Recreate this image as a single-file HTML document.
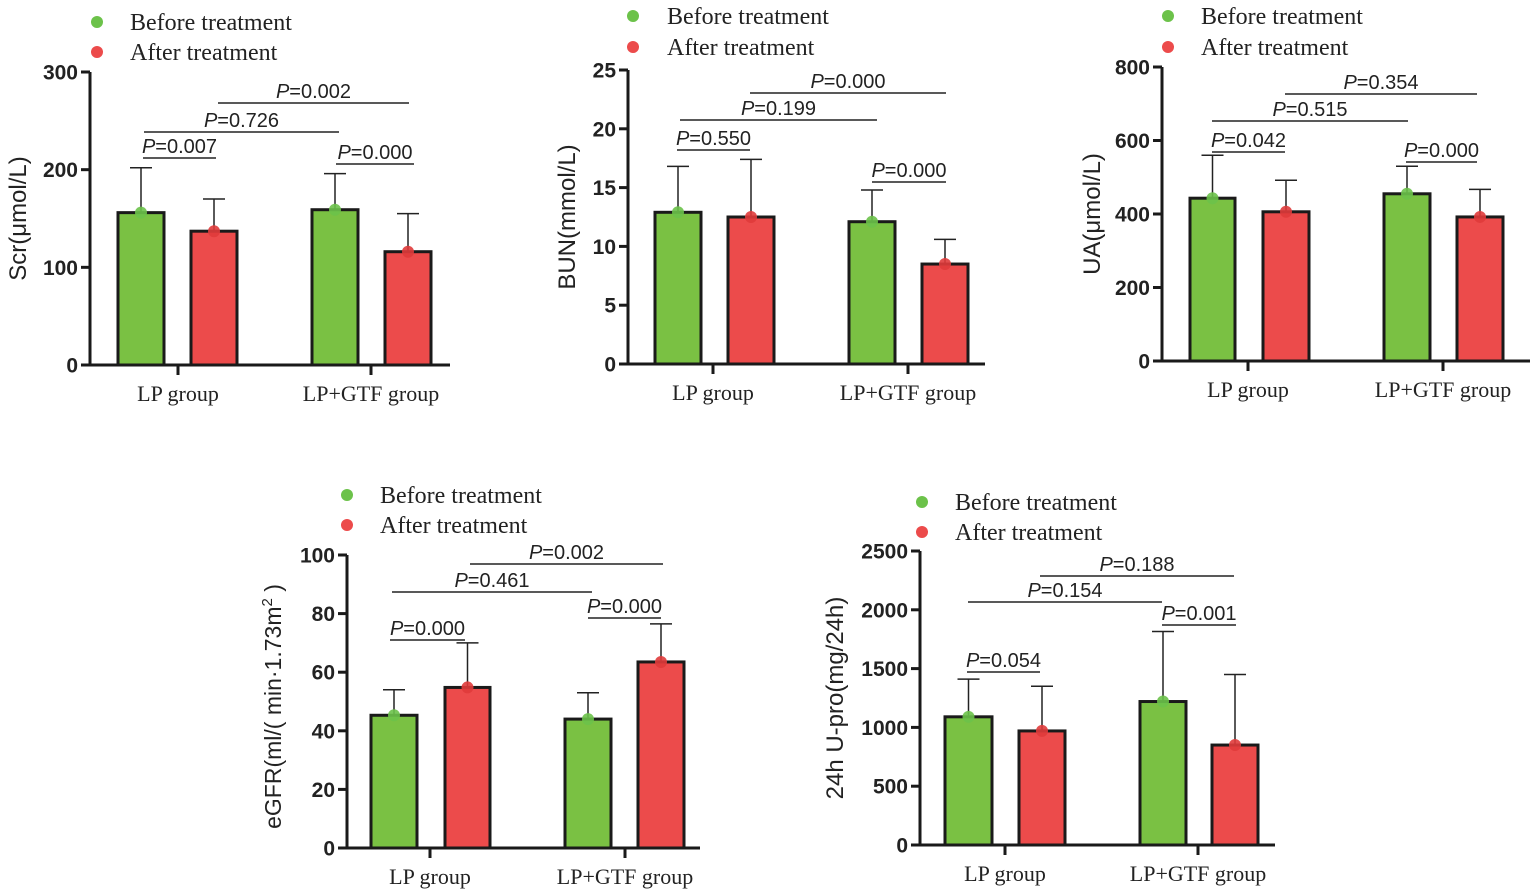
<!DOCTYPE html>
<html><head><meta charset="utf-8"><style>
html,body{margin:0;padding:0;background:#fff;}
svg{display:block}
.ser{font-family:"Liberation Serif",serif;fill:#222}
.san{font-family:"Liberation Sans",sans-serif;fill:#222}
</style></head><body>
<svg id="s" width="1535" height="895" xmlns="http://www.w3.org/2000/svg"></svg>
<script>
const P=[
{ax:90,top:72,y0:365,max:300,step:100,xe:450,bars:[[118,164,156,202,0],[191,237,137,170,1],[312,358,159,196,0],[385,431,116,155,1]],
 br:[["0.007",158,143,216],["0.726",132,144,339],["0.002",103,218,409],["0.000",164,336,414]],ticks:[178,371],leg:[97,130,22,52],yl:"Scr(μmol/L)",ylx:18},
{ax:628,top:70,y0:364,max:25,step:5,xe:985,bars:[[655,701,12.9,16.8,0],[728,774,12.5,17.4,1],[849,895,12.1,14.8,0],[922,968,8.5,10.6,1]],
 br:[["0.550",150,677,750],["0.199",120,680,877],["0.000",93,750,946],["0.000",182,872,946]],ticks:[713,908],leg:[633,667,16,47],yl:"BUN(mmol/L)",ylx:567},
{ax:1162,top:67,y0:361,max:800,step:200,xe:1530,bars:[[1190,1235,443,560,0],[1263,1309,406,492,1],[1384,1430,455,530,0],[1457,1503,392,467,1]],
 br:[["0.042",152,1212,1285],["0.515",121,1212,1408],["0.354",94,1285,1477],["0.000",162,1406,1477]],ticks:[1248,1443],leg:[1168,1201,16,47],yl:"UA(μmol/L)",ylx:1092},
{ax:347,top:555,y0:848,max:100,step:20,xe:700,bars:[[371,417,45.3,54,0],[445,490,54.8,70,1],[565,611,44,53,0],[638,684,63.5,76.5,1]],
 br:[["0.000",640,390,465],["0.461",592,392,592],["0.002",564,470,663],["0.000",618,588,661]],ticks:[430,625],leg:[347,380,495,525],yl:"eGFR",ylx:273},
{ax:920,top:551,y0:845,max:2500,step:500,xe:1275,bars:[[945,992,1090,1410,0],[1019,1065,970,1350,1],[1140,1186,1220,1815,0],[1212,1258,850,1450,1]],
 br:[["0.054",672,967,1040],["0.154",602,968,1162],["0.188",576,1040,1234],["0.001",625,1162,1236]],ticks:[1005,1198],leg:[922,955,502,532],yl:"24h U-pro(mg/24h)",ylx:835}
];
const G="#7ac143",R="#ec4b4b";
let h="";
for(const p of P){
 const sc=v=>p.y0-(v/p.max)*(p.y0-p.top);
 h+=`<circle cx="${p.leg[0]}" cy="${p.leg[2]}" r="6" fill="#6cc24a"/><circle cx="${p.leg[0]}" cy="${p.leg[3]}" r="6" fill="${R}"/>`;
 h+=`<text class="ser" font-size="24" x="${p.leg[1]}" y="${p.leg[2]+8}">Before treatment</text><text class="ser" font-size="24" x="${p.leg[1]}" y="${p.leg[3]+8}">After treatment</text>`;
 for(const b of p.bars){
  const y=sc(b[2]),ye=sc(b[3]),cx=(b[0]+b[1])/2;
  h+=`<line x1="${cx}" y1="${y}" x2="${cx}" y2="${ye}" stroke="#222" stroke-width="1.5"/><line x1="${cx-11}" y1="${ye}" x2="${cx+11}" y2="${ye}" stroke="#222" stroke-width="1.5"/>`;
  h+=`<rect x="${b[0]}" y="${y}" width="${b[1]-b[0]}" height="${p.y0-y}" fill="${b[4]?R:G}" stroke="#1a1a1a" stroke-width="3"/>`;
  h+=`<circle cx="${cx}" cy="${y}" r="6" fill="${b[4]?'#e03b3b':'#6cc24a'}" opacity="0.9"/>`;
 }
 h+=`<line x1="${p.ax}" y1="${p.top}" x2="${p.ax}" y2="${p.y0+1.5}" stroke="#1a1a1a" stroke-width="3"/>`;
 h+=`<line x1="${p.ax-1.5}" y1="${p.y0}" x2="${p.xe}" y2="${p.y0}" stroke="#1a1a1a" stroke-width="3"/>`;
 for(let v=0;v<=p.max;v+=p.step){const y=sc(v);
  h+=`<line x1="${p.ax-9}" y1="${y}" x2="${p.ax}" y2="${y}" stroke="#1a1a1a" stroke-width="3"/>`;
  h+=`<text class="san" x="${p.ax-12}" y="${y+7.5}" text-anchor="end" font-size="21" font-weight="bold">${v}</text>`;}
 p.ticks.forEach((t,i)=>{h+=`<line x1="${t}" y1="${p.y0}" x2="${t}" y2="${p.y0+10}" stroke="#1a1a1a" stroke-width="3"/>`;
  h+=`<text class="ser" font-size="22" x="${t}" y="${p.y0+36}" text-anchor="middle">${i?"LP+GTF group":"LP group"}</text>`;});
 for(const b of p.br){
  h+=`<line x1="${b[2]}" y1="${b[1]}" x2="${b[3]}" y2="${b[1]}" stroke="#222" stroke-width="1.5"/>`;
  h+=`<text class="san" x="${(b[2]+b[3])/2}" y="${b[1]-5}" text-anchor="middle" font-size="20"><tspan font-style="italic">P</tspan>=${b[0]}</text>`;
 }
 const cy=(p.top+p.y0)/2;
 if(p.yl==="eGFR"){
  h+=`<text class="san" transform="translate(${p.ylx+8},${cy+5}) rotate(-90)" text-anchor="middle" font-size="23">eGFR(ml/( min·1.73m<tspan font-size="15" dy="-9">2</tspan><tspan dy="9"> )</tspan></text>`;
 } else {
  h+=`<text class="san" transform="translate(${p.ylx+8},${cy}) rotate(-90)" text-anchor="middle" font-size="24">${p.yl}</text>`;
 }
}
document.getElementById("s").innerHTML=h;
</script>
</body></html>
